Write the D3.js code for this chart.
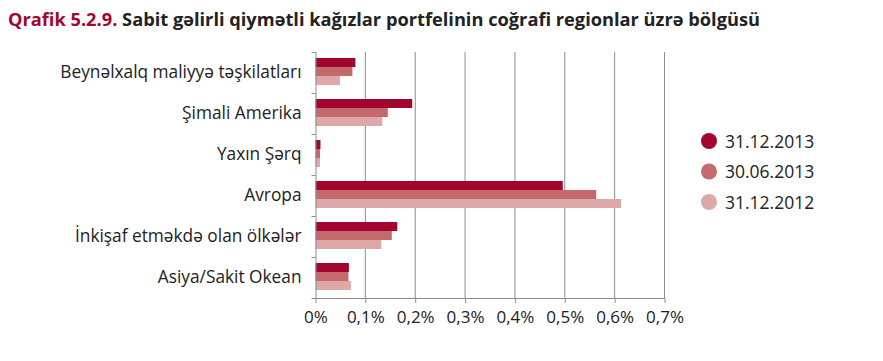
<!DOCTYPE html>
<html>
<head>
<meta charset="utf-8">
<script src="https://cdn.jsdelivr.net/npm/d3@7"></script>
<style>
  body { margin: 0; background: #fff; }
  svg text { font-family: "Open Sans", sans-serif; }
</style>
</head>
<body>
<svg></svg>
<script>
const categories = [
  "Beynəlxalq maliyyə təşkilatları",
  "Şimali Amerika",
  "Yaxın Şərq",
  "Avropa",
  "İnkişaf etməkdə olan ölkələr",
  "Asiya/Sakit Okean"
]
const seriesNames = ["31.12.2013", "30.06.2013", "31.12.2012"]
const dec2013 = [0.080, 0.194, 0.010, 0.496, 0.164, 0.067]
const jun2013 = [0.074, 0.145, 0.009, 0.563, 0.153, 0.066]
const dec2012 = [0.049, 0.134, 0.009, 0.613, 0.132, 0.071]
const xTicks = [0, 0.1, 0.2, 0.3, 0.4, 0.5, 0.6, 0.7]

const colors = ["#A2062F", "#C4696C", "#DDA8A7"]
const series = [dec2013, jun2013, dec2012]

const svg = d3.select("svg")
  .attr("width", 883)
  .attr("height", 361)

const title = svg.append("text")
  .attr("x", 8)
  .attr("y", 26)
  .attr("font-size", 17.5)
  .attr("font-weight", "bold")
  .call(t => {
    t.append("tspan").attr("fill", "#A2062F").text("Qrafik 5.2.9. ")
    t.append("tspan").attr("fill", "#222").text("Sabit gəlirli qiymətli kağızlar portfelinin coğrafi regionlar üzrə bölgüsü")
  })
// the original font is narrower, squeeze to the same span
title.attr("textLength", 752).attr("lengthAdjust", "spacingAndGlyphs")

const xScale = d3.scaleLinear()
  .domain([0, 0.7])
  .range([315.5, 664.5])

const yScale = d3.scaleBand()
  .domain(categories)
  .range([52, 298])

const barScale = d3.scaleBand()
  .domain(d3.range(3))
  .range([6, 33])

// gridlines
svg.append("g")
  .selectAll("line")
  .data(xTicks.slice(1))
  .join("line")
  .attr("x1", d => xScale(d))
  .attr("x2", d => xScale(d))
  .attr("y1", 52)
  .attr("y2", 298)
  .attr("stroke", "#8c8c8c")
  .attr("stroke-width", 1)

const groups = svg.append("g")
  .selectAll("g")
  .data(categories)
  .join("g")
  .attr("transform", d => `translate(0, ${yScale(d)})`)

groups.selectAll("rect")
  .data((d, i) => series.map((s, j) => ({ v: s[i], j: j })))
  .join("rect")
  .attr("x", xScale(0))
  .attr("y", d => barScale(d.j))
  .attr("width", d => xScale(d.v) - xScale(0))
  .attr("height", barScale.bandwidth())
  .attr("fill", d => colors[d.j])

const xAxis = d3.axisBottom(xScale)
  .tickValues(xTicks)
  .tickSize(5)
  .tickPadding(8)
  .tickFormat(d => d3.format(".1f")(d).replace(".", ",").replace(/^0,0$/, "0") + "%")

const gx = svg.append("g")
  .attr("transform", "translate(0, 298)")
  .call(xAxis)
gx.select(".domain").attr("stroke", "#8c8c8c").attr("d", `M${xScale(0) - 4},0.5H${xScale(0.7)}`)
gx.selectAll(".tick line").attr("stroke", "#8c8c8c")
gx.selectAll(".tick text")
  .attr("fill", "#222")
  .attr("font-size", 17)
  .style("font-family", "'Open Sans', sans-serif")

const yAxis = d3.axisLeft(yScale)
  .tickSize(0)
  .tickPadding(14)

const gy = svg.append("g")
  .attr("transform", `translate(${xScale(0)}, 0)`)
  .call(yAxis)
gy.select(".domain").attr("stroke", "#8c8c8c").attr("d", "M0.5,52V298")
gy.selectAll(".tick text")
  .attr("fill", "#222")
  .attr("font-size", 17.3)
  .style("font-family", "'Open Sans', sans-serif")

// category separator ticks
gy.append("g")
  .selectAll("line")
  .data(categories)
  .join("line")
  .attr("x1", -4)
  .attr("x2", 0)
  .attr("y1", d => yScale(d) + 0.5)
  .attr("y2", d => yScale(d) + 0.5)
  .attr("stroke", "#8c8c8c")

const legend = svg.append("g")
  .selectAll("g")
  .data(seriesNames)
  .join("g")
  .attr("transform", (d, i) => `translate(709, ${141 + i * 30.5})`)

legend.append("circle")
  .attr("r", 8)
  .attr("fill", (d, i) => colors[i])

legend.append("text")
  .attr("x", 16)
  .attr("y", 6.5)
  .attr("font-size", 17.5)
  .attr("fill", "#222")
  .text(d => d)
</script>
</body>
</html>
